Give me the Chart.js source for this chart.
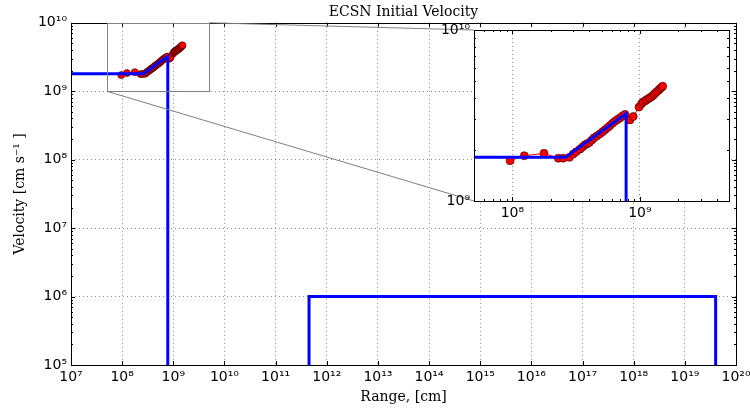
<!DOCTYPE html>
<html>
<head>
<meta charset="utf-8">
<title>ECSN Initial Velocity</title>
<script src="https://cdn.jsdelivr.net/npm/chart.js@4.4.1/dist/chart.umd.min.js"></script>
<style>
  html, body { margin: 0; padding: 0; background: #fff; }
  #wrap { position: relative; width: 750px; height: 411px; }
  #main { position: absolute; left: 0; top: 0; }
  #inset { position: absolute; left: 430px; top: 20px; z-index: 2; }
</style>
</head>
<body>
<div id="wrap">
  <canvas id="main" width="750" height="411"></canvas>
  <canvas id="inset" width="320" height="205"></canvas>
</div>
<script>
// simulated ejecta: range [cm] vs velocity [cm/s]
const rangeCm = [9.6e7, 1.24e8, 1.77e8, 2.29e8, 2.5e8, 2.8e8, 3.0e8, 3.16e8, 3.39e8, 3.55e8,
  3.71e8, 3.85e8, 4.01e8, 4.2e8, 4.37e8, 4.6e8, 4.87e8, 5.1e8, 5.33e8, 5.6e8,
  5.83e8, 6.1e8, 6.38e8, 6.7e8, 6.98e8, 7.3e8, 7.64e8, 8.36e8, 8.87e8, 9.84e8,
  1.03e9, 1.06e9, 1.1e9, 1.13e9, 1.17e9, 1.2e9, 1.24e9, 1.27e9, 1.31e9, 1.35e9,
  1.4e9, 1.44e9, 1.48e9, 1.51e9];
const velocity = [1.72e9, 1.84e9, 1.90e9, 1.78e9, 1.78e9, 1.80e9, 1.88e9, 1.94e9, 2.01e9, 2.07e9,
  2.13e9, 2.16e9, 2.20e9, 2.27e9, 2.34e9, 2.40e9, 2.47e9, 2.54e9, 2.61e9, 2.69e9,
  2.76e9, 2.85e9, 2.93e9, 3.0e9, 3.06e9, 3.14e9, 3.21e9, 2.98e9, 3.12e9, 3.54e9,
  3.7e9, 3.79e9, 3.85e9, 3.91e9, 3.97e9, 4.02e9, 4.09e9, 4.15e9, 4.25e9, 4.34e9,
  4.44e9, 4.54e9, 4.62e9, 4.69e9];

// model profile (blue step) and the outer shell box
const stepRange = [1e7, 2.6e8, 7.8e8, 7.8e8];
const stepVelocity = [1.8e9, 1.8e9, 3.24e9, 1e5];
const boxRange = [4.5e11, 4.5e11, 4e19, 4e19];
const boxVelocity = [1e5, 1e6, 1e6, 1e5];

// axis limits and tick values
const mainRangeLim = [1e7, 1e20];
const mainVelLim = [1e5, 1e10];
const zoomRangeLim = [5e7, 5e9];
const zoomVelLim = [1e9, 1e10];
const mainRangeTicks = [1e7, 1e8, 1e9, 1e10, 1e11, 1e12, 1e13, 1e14, 1e15, 1e16, 1e17, 1e18, 1e19, 1e20];
const mainVelTicks = [1e5, 1e6, 1e7, 1e8, 1e9, 1e10];
const zoomRangeTicks = [1e8, 1e9];
const zoomVelTicks = [1e9, 1e10];

const SUP = { '0': '\u2070', '1': '\u00b9', '2': '\u00b2', '3': '\u00b3', '4': '\u2074',
  '5': '\u2075', '6': '\u2076', '7': '\u2077', '8': '\u2078', '9': '\u2079', '-': '\u207b' };
const powLabel = v => '10' + String(Math.round(Math.log10(v))).split('').map(c => SUP[c]).join('');

const toXY = (xs, ys) => xs.map((x, i) => ({ x: x, y: ys[i] }));

const tickFont = { family: 'DejaVu Sans', size: 14 };
const serifFont = { family: 'DejaVu Serif', size: 14 };
const gridColor = 'rgba(0,0,0,0.45)';

// minor ticks 2..9 x 10^n inside [lo, hi]
function minorValues(lo, hi) {
  const out = [];
  for (let e = Math.floor(Math.log10(lo)); e <= Math.ceil(Math.log10(hi)); e++) {
    for (let k = 2; k <= 9; k++) {
      const v = k * Math.pow(10, e);
      if (v > lo * 1.0001 && v < hi * 0.9999) out.push(v);
    }
  }
  return out;
}

// black frame with inward ticks on all four sides
function frameWithTicks(opts) {
  return {
    id: 'frameTicks',
    afterDatasetsDraw(chart) {
      const { ctx, chartArea: a, scales } = chart;
      const xs = scales.x, ys = scales.y;
      ctx.save();
      ctx.strokeStyle = '#000';
      ctx.lineWidth = 1;
      ctx.beginPath();
      const tick = (vals, len, horiz) => {
        vals.forEach(v => {
          if (horiz) {
            const px = Math.round(xs.getPixelForValue(v)) + 0.5;
            ctx.moveTo(px, a.bottom); ctx.lineTo(px, a.bottom - len);
            ctx.moveTo(px, a.top); ctx.lineTo(px, a.top + len);
          } else {
            const py = Math.round(ys.getPixelForValue(v)) + 0.5;
            ctx.moveTo(a.left, py); ctx.lineTo(a.left + len, py);
            ctx.moveTo(a.right, py); ctx.lineTo(a.right - len, py);
          }
        });
      };
      tick(opts.xMajor, 4, true);
      tick(opts.xMinor, 2, true);
      tick(opts.yMajor, 4, false);
      tick(opts.yMinor, 2, false);
      ctx.stroke();
      ctx.strokeRect(Math.round(a.left) + 0.5, Math.round(a.top) + 0.5,
        Math.round(a.right - a.left), Math.round(a.bottom - a.top));
      ctx.restore();
    }
  };
}

// log axis whose size is fixed, so tick labels never push the plot area around
function logAxis(lim, ticks, size, extra) {
  return Object.assign({
    type: 'logarithmic',
    min: lim[0],
    max: lim[1],
    afterBuildTicks: s => { s.ticks = ticks.map(v => ({ value: v, major: true })); },
    afterFit: s => {
      if (s.isHorizontal()) s.height = size; else s.width = size;
      s.paddingLeft = s.paddingRight = s.paddingTop = s.paddingBottom = 0;
    },
    ticks: { font: tickFont, color: '#000', padding: 4, autoSkip: false, maxRotation: 0,
      callback: v => powLabel(v) },
    grid: {
      drawTicks: false,
      lineWidth: 1,
      color: c => (c.tick && (c.tick.value === lim[0] || c.tick.value === lim[1])) ? 'rgba(0,0,0,0)' : gridColor
    },
    border: { display: false, dash: [1, 3] }
  }, extra);
}

// zoomed panel
const insetChart = new Chart(document.getElementById('inset'), {
  type: 'scatter',
  data: {
    datasets: [
      { data: toXY(stepRange, stepVelocity), showLine: true, borderColor: '#0000ff', borderWidth: 3,
        pointRadius: 0, clip: 0 },
      { data: toXY(rangeCm, velocity), showLine: true, borderColor: '#ff0000', borderWidth: 1,
        pointRadius: 4, pointBackgroundColor: '#ff0000', pointBorderColor: 'rgba(50,0,0,0.9)',
        pointBorderWidth: 0.7, clip: 0 }
    ]
  },
  options: {
    animation: false,
    responsive: false,
    devicePixelRatio: 1,
    layout: { padding: { left: 0, right: 21, top: 10, bottom: 0 } },
    plugins: { legend: { display: false }, tooltip: { enabled: false } },
    scales: {
      x: logAxis(zoomRangeLim, zoomRangeTicks, 24),
      y: logAxis(zoomVelLim, zoomVelTicks, 44)
    }
  },
  plugins: [
    {
      id: 'panelBg',
      beforeDraw(chart) {
        const a = chart.chartArea;
        chart.ctx.save();
        chart.ctx.fillStyle = '#fff';
        chart.ctx.fillRect(a.left, a.top, a.right - a.left, a.bottom - a.top);
        chart.ctx.restore();
      }
    },
    frameWithTicks({
      xMajor: zoomRangeTicks, xMinor: minorValues(zoomRangeLim[0], zoomRangeLim[1]),
      yMajor: [], yMinor: minorValues(zoomVelLim[0], zoomVelLim[1])
    })
  ]
});

// zoom box on the main axes and the two lines joining it to the panel
const zoomMarker = {
  id: 'zoomMarker',
  afterDatasetsDraw(chart) {
    const { ctx, scales } = chart;
    const x0 = scales.x.getPixelForValue(zoomRangeLim[0]);
    const x1 = scales.x.getPixelForValue(zoomRangeLim[1]);
    const y0 = scales.y.getPixelForValue(zoomVelLim[0]);
    const y1 = scales.y.getPixelForValue(zoomVelLim[1]);
    const el = insetChart.canvas;
    const ia = insetChart.chartArea;
    const ox = el.offsetLeft, oy = el.offsetTop;
    ctx.save();
    ctx.strokeStyle = '#808080';
    ctx.lineWidth = 1;
    ctx.strokeRect(Math.round(x0) + 0.5, Math.round(y1) + 0.5, Math.round(x1 - x0), Math.round(y0 - y1));
    ctx.beginPath();
    ctx.moveTo(x1, y1); ctx.lineTo(ox + ia.left, oy + ia.top);
    ctx.moveTo(x0, y0); ctx.lineTo(ox + ia.left, oy + ia.bottom);
    ctx.stroke();
    ctx.restore();
  }
};

new Chart(document.getElementById('main'), {
  type: 'scatter',
  data: {
    datasets: [
      { data: toXY(stepRange, stepVelocity), showLine: true, borderColor: '#0000ff', borderWidth: 3,
        pointRadius: 0 },
      { data: toXY(boxRange, boxVelocity), showLine: true, borderColor: '#0000ff', borderWidth: 3,
        pointRadius: 0 },
      { data: toXY(rangeCm, velocity), showLine: true, borderColor: '#ff0000', borderWidth: 1,
        pointRadius: 3.5, pointBackgroundColor: '#ff0000', pointBorderColor: 'rgba(50,0,0,0.9)',
        pointBorderWidth: 0.7 }
    ]
  },
  options: {
    animation: false,
    responsive: false,
    devicePixelRatio: 1,
    layout: { padding: { left: 0, right: 14, top: 0, bottom: 0 } },
    plugins: {
      legend: { display: false },
      tooltip: { enabled: false },
      title: { display: true, fullSize: false, text: 'ECSN Initial Velocity', color: '#000',
        font: { family: 'DejaVu Serif', size: 14, weight: 'normal' }, padding: { top: 4, bottom: 2 } }
    },
    scales: {
      x: logAxis(mainRangeLim, mainRangeTicks, 46, {
        title: { display: true, text: 'Range, [cm]', color: '#000', font: serifFont, padding: { top: 0, bottom: 5 } }
      }),
      y: logAxis(mainVelLim, mainVelTicks, 71, {
        title: { display: true, text: 'Velocity [cm s\u207b\u00b9 ]', color: '#000', font: serifFont, padding: { top: 12, bottom: 0 } }
      })
    }
  },
  plugins: [
    {
      id: 'whiteBg',
      beforeDraw(chart) {
        chart.ctx.save();
        chart.ctx.fillStyle = '#fff';
        chart.ctx.fillRect(0, 0, chart.width, chart.height);
        chart.ctx.restore();
      }
    },
    frameWithTicks({
      xMajor: mainRangeTicks, xMinor: [],
      yMajor: mainVelTicks, yMinor: minorValues(mainVelLim[0], mainVelLim[1])
    }),
    zoomMarker
  ]
});
</script>
</body>
</html>
